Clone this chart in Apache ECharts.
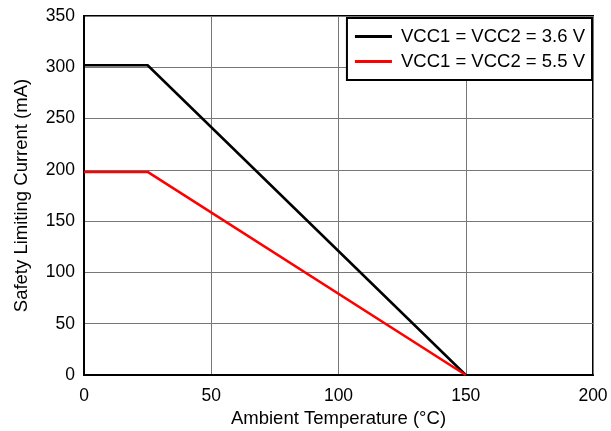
<!DOCTYPE html>
<html>
<head>
<meta charset="utf-8">
<script src="https://cdn.jsdelivr.net/npm/echarts@6/dist/echarts.min.js"></script>
<style>html,body{margin:0;padding:0;background:#fff}#c{width:611px;height:431px}</style>
</head>
<body>
<div id="c"></div>
<script>
const temps = [0, 25, 150];
const current36 = [302, 302, 0];
const current55 = [198, 198, 0];
const seriesNames = ['VCC1 = VCC2 = 3.6 V', 'VCC1 = VCC2 = 5.5 V'];

const chart = echarts.init(document.getElementById('c'), null, {renderer: 'canvas'});
const font = 'Liberation Sans, Arial, Helvetica, sans-serif';
chart.setOption({
  animation: false,
  backgroundColor: '#fff',
  grid: {left: 84, right: 18, top: 16, bottom: 56, show: true, borderColor: '#000', borderWidth: 2,
         containLabel: false, outerBoundsMode: 'none'},
  legend: {
    orient: 'vertical', right: 19, top: 18,
    backgroundColor: '#fff', borderColor: '#000', borderWidth: 2,
    padding: [9, 7, 9, 8], itemGap: 6, itemWidth: 37, itemHeight: 3, icon: 'rect',
    textStyle: {fontFamily: font, fontSize: 18.5, color: '#000', padding: [0, 0, 0, 4]},
    data: seriesNames
  },
  xAxis: {
    type: 'value', min: 0, max: 200, interval: 50,
    name: 'Ambient Temperature (°C)', nameLocation: 'middle', nameGap: 33,
    nameTextStyle: {fontFamily: font, fontSize: 18.5, color: '#000'},
    axisLine: {show: true, lineStyle: {color: '#000', width: 2}},
    axisTick: {show: false},
    axisLabel: {fontFamily: font, fontSize: 17.5, color: '#000', margin: 12},
    splitLine: {show: true, lineStyle: {color: '#777', width: 1}}
  },
  yAxis: {
    type: 'value', min: 0, max: 350, interval: 50,
    name: 'Safety Limiting Current (mA)', nameLocation: 'middle', nameGap: 53,
    nameTextStyle: {fontFamily: font, fontSize: 18.5, color: '#000'},
    axisLine: {show: true, lineStyle: {color: '#000', width: 2}},
    axisTick: {show: false},
    axisLabel: {fontFamily: font, fontSize: 17.5, color: '#000', margin: 9},
    splitLine: {show: true, lineStyle: {color: '#777', width: 1}}
  },
  series: [
    {name: seriesNames[0], type: 'line', symbol: 'none', color: '#000',
     lineStyle: {color: '#000', width: 2.5}, data: temps.map((t, i) => [t, current36[i]])},
    {name: seriesNames[1], type: 'line', symbol: 'none', color: '#f00',
     lineStyle: {color: '#f00', width: 2.5}, data: temps.map((t, i) => [t, current55[i]])}
  ]
});
</script>
</body>
</html>
